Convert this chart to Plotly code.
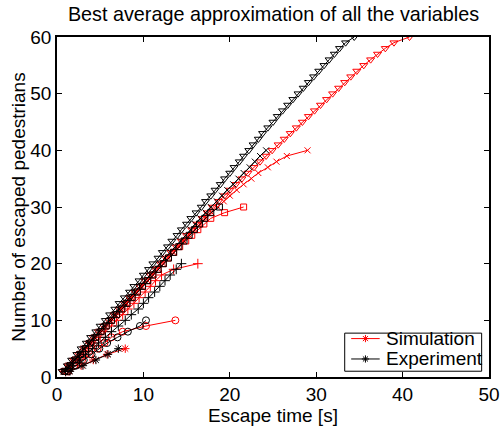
import plotly.graph_objects as go

# Escape times [s] for each scenario (index k -> k-th escaped pedestrian)
n5 = [1, 2, 3, 4, 5]
n10 = [1, 2, 3, 4, 5, 6, 7, 8, 9, 10]
n20 = [1, 2, 3, 4, 5, 6, 7, 8, 9, 10, 11, 12, 13, 14, 15, 16, 17, 18, 19, 20]
n30 = n20 + [21, 22, 23, 24, 25, 26, 27, 28, 29, 30]
n40 = n30 + [31, 32, 33, 34, 35, 36, 37, 38, 39, 40]
n60 = n40 + [41, 42, 43, 44, 45, 46, 47, 48, 49, 50,
             51, 52, 53, 54, 55, 56, 57, 58, 59, 60]

sim_5 = [1.4, 2.8, 4.2, 5.8, 7.9]
exp_5 = [1.5, 3.0, 4.5, 5.9, 7.1]

sim_10 = [1.2, 2.0, 2.9, 3.8, 4.7, 5.5, 6.3, 7.6, 10.3, 13.7]
exp_10 = [1.3, 2.2, 3.1, 4.0, 4.9, 5.8, 7.0, 8.2, 9.6, 10.3]

sim_20 = [1.0, 1.7, 2.4, 3.0, 3.7, 4.3, 5.0, 5.6, 6.3, 6.9,
          7.6, 8.2, 8.9, 9.5, 10.2, 10.8, 11.4, 12.1, 13.5, 16.3]
exp_20 = [1.0, 1.8, 2.6, 3.3, 4.1, 4.8, 5.6, 6.3, 7.1, 7.9,
          8.6, 9.4, 10.0, 10.6, 11.3, 11.9, 12.5, 13.1, 13.8, 14.4]

sim_30 = [0.9, 1.5, 2.1, 2.7, 3.3, 3.9, 4.5, 5.1, 5.7, 6.3,
          6.9, 7.5, 8.1, 8.7, 9.3, 9.9, 10.5, 11.1, 11.7, 12.3,
          12.9, 13.5, 14.2, 14.9, 15.6, 16.3, 17.0, 17.8, 19.4, 21.6]
exp_30 = [0.9, 1.5, 2.1, 2.7, 3.3, 3.9, 4.5, 5.1, 5.7, 6.3,
          6.9, 7.5, 8.1, 8.7, 9.3, 9.9, 10.5, 11.1, 11.7, 12.3,
          12.9, 13.5, 14.1, 14.7, 15.3, 15.9, 16.5, 17.1, 17.8, 18.8]

sim_40 = [0.8, 1.4, 2.0, 2.6, 3.2, 3.8, 4.4, 5.0, 5.6, 6.2,
          6.8, 7.4, 8.0, 8.6, 9.2, 9.8, 10.5, 11.1, 11.7, 12.3,
          12.9, 13.5, 14.1, 14.7, 15.3, 16.0, 16.6, 17.2, 17.9, 18.6,
          19.3, 20.0, 20.8, 21.6, 22.5, 23.3, 24.4, 25.4, 26.6, 29.0]
exp_40 = [0.8, 1.4, 2.0, 2.6, 3.1, 3.7, 4.3, 4.9, 5.5, 6.1,
          6.7, 7.2, 7.8, 8.4, 9.0, 9.6, 10.2, 10.8, 11.3, 11.9,
          12.5, 13.1, 13.7, 14.3, 14.9, 15.5, 16.0, 16.6, 17.2, 17.8,
          18.5, 19.1, 19.7, 20.4, 21.0, 21.6, 22.3, 22.9, 23.5, 24.2]

sim_60 = [0.7, 1.3, 1.9, 2.5, 3.1, 3.7, 4.2, 4.8, 5.4, 6.0,
          6.6, 7.2, 7.8, 8.4, 9.0, 9.6, 10.2, 10.8, 11.4, 12.0,
          12.6, 13.2, 13.8, 14.4, 15.0, 15.6, 16.2, 16.8, 17.4, 18.0,
          18.7, 19.4, 20.0, 20.7, 21.4, 22.1, 22.8, 23.5, 24.2, 24.9,
          25.6, 26.3, 27.0, 27.7, 28.4, 29.1, 29.8, 30.5, 31.2, 31.9,
          32.6, 33.3, 34.0, 34.7, 35.5, 36.3, 37.1, 38.0, 39.0, 40.8]
exp_60 = [0.6, 1.2, 1.7, 2.3, 2.8, 3.4, 3.9, 4.5, 5.0, 5.6,
          6.1, 6.7, 7.2, 7.8, 8.4, 8.9, 9.5, 10.0, 10.6, 11.1,
          11.7, 12.2, 12.8, 13.3, 13.9, 14.4, 15.0, 15.5, 16.1, 16.7,
          17.2, 17.8, 18.3, 18.9, 19.4, 20.0, 20.5, 21.1, 21.6, 22.2,
          22.7, 23.3, 23.8, 24.4, 25.0, 25.5, 26.1, 26.7, 27.3, 27.9,
          28.5, 29.1, 29.7, 30.3, 30.9, 31.5, 32.1, 32.7, 33.4, 34.4]

legend_labels = ["Simulation", "Experiment"]

scenarios = [
    (n5, sim_5, exp_5, "asterisk-open", 7),
    (n10, sim_10, exp_10, "circle-open", 7),
    (n20, sim_20, exp_20, "cross-thin-open", 7),
    (n30, sim_30, exp_30, "square-open", 6),
    (n40, sim_40, exp_40, "x-thin-open", 6),
    (n60, sim_60, exp_60, "triangle-down-open", 7),
]

RED = "#ff0000"
BLACK = "#000000"
FONT = "Liberation Sans, Arial, Helvetica, sans-serif"
FS = 19

fig = go.Figure()
for n, sim, exp, sym, ms in scenarios:
    fig.add_trace(go.Scatter(
        x=sim, y=n, mode="lines+markers", name=legend_labels[0],
        line=dict(color=RED, width=1),
        marker=dict(symbol=sym, size=ms, color=RED, line=dict(color=RED, width=1)),
        showlegend=False,
    ))
for n, sim, exp, sym, ms in scenarios:
    fig.add_trace(go.Scatter(
        x=exp, y=n, mode="lines+markers", name=legend_labels[1],
        line=dict(color=BLACK, width=1),
        marker=dict(symbol=sym, size=ms, color=BLACK, line=dict(color=BLACK, width=1)),
        showlegend=False,
    ))

# --- MATLAB-style compact legend box (drawn on an overlay axis spanning the plot area)
box_x0, box_x1, box_y0, box_y1 = 0.666, 0.983, 0.017, 0.129
rows_y = [0.113, 0.053]
sample_x = [0.681, 0.747]
for label, col, yy in zip(legend_labels, [RED, BLACK], rows_y):
    fig.add_trace(go.Scatter(
        x=sample_x, y=[yy, yy], mode="lines", line=dict(color=col, width=1),
        xaxis="x2", yaxis="y2", showlegend=False, hoverinfo="skip"))
    fig.add_trace(go.Scatter(
        x=[sum(sample_x) / 2], y=[yy], mode="markers",
        marker=dict(symbol="asterisk-open", size=6, color=col, line=dict(color=col, width=1)),
        xaxis="x2", yaxis="y2", showlegend=False, hoverinfo="skip"))
    fig.add_annotation(x=0.757, y=yy, xref="paper", yref="paper", text=label,
                       showarrow=False, xanchor="left", yanchor="middle",
                       font=dict(family=FONT, size=FS, color="black"))
fig.add_shape(type="rect", xref="paper", yref="paper",
              x0=box_x0, x1=box_x1, y0=box_y0, y1=box_y1,
              line=dict(color="black", width=1), fillcolor="rgba(0,0,0,0)", layer="above")

axis_common = dict(
    showgrid=False, zeroline=False, showline=True, linecolor="black", linewidth=1.5,
    mirror="ticks", ticks="inside", ticklen=5, tickwidth=1, tickcolor="black",
    tickfont=dict(family=FONT, size=FS, color="black"), automargin=False,
)

fig.update_layout(
    width=500, height=426,
    margin=dict(l=57, r=11, t=37, b=49),
    paper_bgcolor="white", plot_bgcolor="white",
    title=dict(text="Best average approximation of all the variables",
               x=0.547, xanchor="center", y=0.968, yanchor="middle",
               font=dict(family=FONT, size=19.8, color="black")),
    xaxis=dict(range=[0, 50], tickvals=[0, 10, 20, 30, 40, 50],
               ticklabelstandoff=-1,
               title=dict(text="Escape time [s]", standoff=3,
                          font=dict(family=FONT, size=FS, color="black")),
               **axis_common),
    yaxis=dict(range=[0, 60], tickvals=[0, 10, 20, 30, 40, 50, 60],
               title=dict(text="Number of escaped pedestrians", standoff=0,
                          font=dict(family=FONT, size=FS, color="black")),
               **axis_common),
    xaxis2=dict(range=[0, 1], overlaying="x", visible=False, anchor="y2"),
    yaxis2=dict(range=[0, 1], overlaying="y", visible=False, anchor="x2"),
    showlegend=False,
)

fig.write_html("out.html")
